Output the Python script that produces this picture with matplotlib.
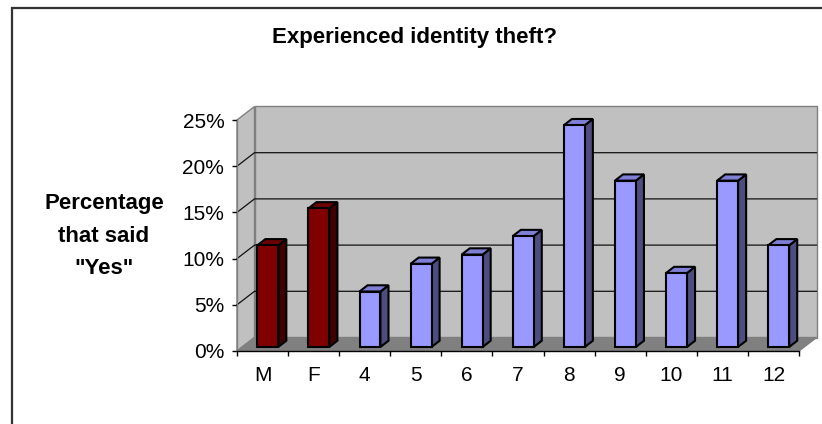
import matplotlib
matplotlib.use('Agg')
import matplotlib.pyplot as plt
from matplotlib.patches import Polygon, Rectangle
from matplotlib.lines import Line2D

# ---- data ----
categories = ['M', 'F', '4', '5', '6', '7', '8', '9', '10', '11', '12']
values = [11, 15, 6, 9, 10, 12, 24, 18, 8, 18, 11]
groups = ['gender', 'gender', 'grade', 'grade', 'grade', 'grade', 'grade',
          'grade', 'grade', 'grade', 'grade']
y_ticks = [0, 5, 10, 15, 20, 25]
y_tick_labels = ['0%', '5%', '10%', '15%', '20%', '25%']
title = 'Experienced identity theft?'
ylabel = 'Percentage\nthat said\n"Yes"'

front_colors = {'gender': '#800000', 'grade': '#9999FF'}
side_colors = {'gender': '#400000', 'grade': '#4D4D80'}
top_colors = {'gender': '#6A0000', 'grade': '#7F7FD6'}

plt.rcParams['font.family'] = ['Liberation Sans', 'DejaVu Sans']

W, H = 822, 424
fig = plt.figure(figsize=(W / 100, H / 100), dpi=100)
fig.patch.set_facecolor('white')

# front plane of the 3D box in pixels
x0, x1 = 237, 799
yb, yt = 351, 120
ax = fig.add_axes([x0 / W, 1 - yb / H, (x1 - x0) / W, (yb - yt) / H])
n = len(categories)
ymax = 25
ax.set_xlim(0, n)
ax.set_ylim(0, ymax)
ax.patch.set_visible(False)

ox = 17.5 / ((x1 - x0) / n)
oy = 13.5 / ((yb - yt) / ymax)

wall = '#C0C0C0'
edge = '#808080'
# side wall
ax.add_patch(Polygon([(0, 0), (ox, oy), (ox, ymax + oy), (0, ymax)], closed=True,
                     fc=wall, ec=edge, lw=1, clip_on=False, zorder=0.5))
# back wall
ax.add_patch(Polygon([(ox, oy), (n + ox, oy), (n + ox, ymax + oy), (ox, ymax + oy)],
                     closed=True, fc=wall, ec=edge, lw=1, clip_on=False, zorder=0.5))
# floor
ax.add_patch(Polygon([(0, 0), (n, 0), (n + ox, oy), (ox, oy)], closed=True,
                     fc='#808080', ec=edge, lw=1, clip_on=False, zorder=0.6))
# gridlines
for v in y_ticks[1:-1]:
    ax.plot([0, ox, n + ox], [v, v + oy, v + oy], color='#111111', lw=0.9,
            clip_on=False, zorder=0.7, solid_joinstyle='miter')

# bars
f = 0.30
w = 0.41
d = 0.46
for i, (v, g) in enumerate(zip(values, groups)):
    cx = i + 0.5 + f * ox
    xl, xr = cx - w / 2, cx + w / 2
    b0 = f * oy
    top = b0 + v
    dx, dy = d * ox, d * oy
    z = 2 + i * 0.01
    kw = dict(ec='black', lw=1.5, joinstyle='miter', clip_on=False, zorder=z)
    ax.add_patch(Polygon([(xr, b0), (xr + dx, b0 + dy), (xr + dx, top + dy), (xr, top)],
                         closed=True, fc=side_colors[g], **kw))
    ax.add_patch(Polygon([(xl, top), (xr, top), (xr + dx, top + dy), (xl + dx, top + dy)],
                         closed=True, fc=top_colors[g], **kw))
    ax.add_patch(Rectangle((xl, b0), w, v, fc=front_colors[g], **kw))

# axes, ticks
for s in ['top', 'right']:
    ax.spines[s].set_visible(False)
ax.spines['left'].set_color(edge)
ax.spines['left'].set_linewidth(1)
ax.spines['bottom'].set_color('black')
ax.spines['bottom'].set_linewidth(1)

ax.set_xticks(range(n + 1))
ax.set_xticklabels([''] * (n + 1))
ax.set_xticks([i + 0.5 for i in range(n)], minor=True)
ax.set_xticklabels(categories, minor=True)
ax.tick_params(axis='x', which='major', length=3.6, width=1, color='black', direction='out')
ax.tick_params(axis='x', which='minor', length=0, pad=11, labelsize=15)
ax.set_yticks(y_ticks)
ax.set_yticklabels(y_tick_labels)
ax.tick_params(axis='y', length=3.6, width=1, color='black', direction='out',
               pad=5.5, labelsize=15)

fig.text(414 / W, 1 - 38 / H, title, ha='center', va='center', fontsize=16,
         fontweight='bold')
fig.text(104 / W, 1 - 236 / H, ylabel, ha='center', va='center', fontsize=16,
         fontweight='bold', linespacing=1.72, multialignment='center')

# chart border (left and top visible)
fig.add_artist(Line2D([12 / W, 12 / W, 1.0], [0.0, 1 - 7.5 / H, 1 - 7.5 / H],
                      transform=fig.transFigure, color='#333333', lw=1.6,
                      solid_joinstyle='miter'))

fig.savefig('out.png', dpi=100)
